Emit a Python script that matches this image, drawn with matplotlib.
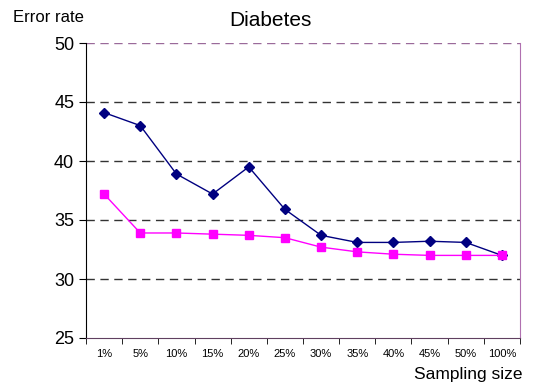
import matplotlib
matplotlib.use("Agg")
import matplotlib.pyplot as plt
import numpy as np

plt.rcParams['font.family'] = ['Liberation Sans', 'DejaVu Sans']

sizes = ["1%", "5%", "10%", "15%", "20%", "25%", "30%", "35%", "40%", "45%", "50%", "100%"]
blue_err = [44.1, 43.0, 38.9, 37.2, 39.5, 35.9, 33.7, 33.1, 33.1, 33.2, 33.1, 32.0]
pink_err = [37.2, 33.9, 33.9, 33.8, 33.7, 33.5, 32.7, 32.3, 32.1, 32.0, 32.0, 32.0]

fig = plt.figure(figsize=(5.34, 3.88), dpi=100)
ax = fig.add_axes([86/534, 1 - 338/388, 434/534, 295/388])

x = np.arange(len(sizes))
ax.plot(x, blue_err, color="#000080", lw=1, marker="D", ms=5, zorder=3)
ax.plot(x, pink_err, color="#ff00ff", lw=1, marker="s", ms=5.5, zorder=3)

ax.set_xlim(-0.5, len(sizes) - 0.5)
ax.set_ylim(25, 50)
ax.set_yticks([25, 30, 35, 40, 45, 50])
ax.set_xticks(x)
ax.set_xticklabels(sizes, fontsize=8)
ax.set_xticks(np.arange(len(sizes) + 1) - 0.5, minor=True)
ax.tick_params(axis="x", which="major", length=0, pad=8)
ax.tick_params(axis="x", which="minor", length=4, color="black")
ax.tick_params(axis="y", labelsize=13, length=5, direction="out")

for yv in [30, 35, 40, 45]:
    ax.axhline(yv, color="#333333", lw=1, ls=(0, (6, 4)), zorder=1)
ax.axhline(50, color="#9a6a9a", lw=1, ls=(0, (6, 4)), zorder=1)

ax.spines["top"].set_visible(False)
ax.spines["right"].set_color("#b070b0")
ax.spines["bottom"].set_color("#604060")
ax.spines["left"].set_color("black")

fig.text(48/534, 1 - 17/388, "Error rate", fontsize=12, ha="center", va="center")
fig.text(270/534, 1 - 20/388, "Diabetes", fontsize=15, ha="center", va="center")
fig.text(468/534, 1 - 374/388, "Sampling size", fontsize=12.5, ha="center", va="center")

fig.savefig("out.png", dpi=100)
